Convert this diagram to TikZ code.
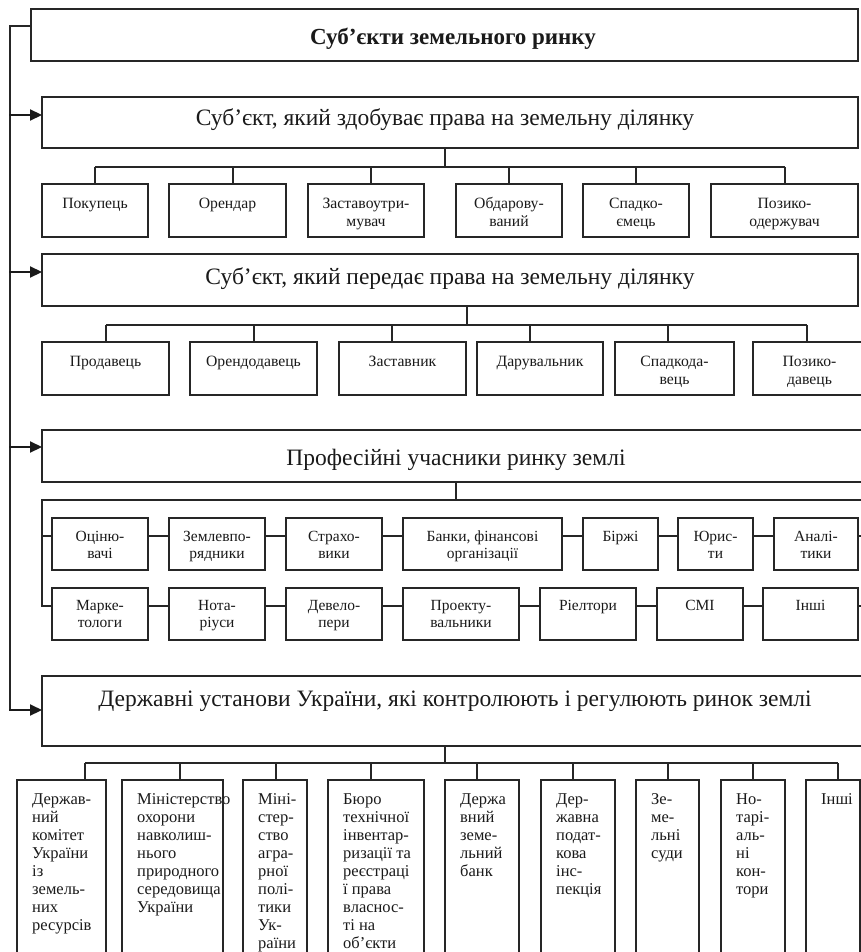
\documentclass[tikz,border=0pt]{standalone}
\usepackage{fontspec}
\setmainfont{Liberation Serif}
\usetikzlibrary{arrows.meta}
\definecolor{lc}{HTML}{262626}
\definecolor{tc}{HTML}{1A1A1A}
\tikzset{
  box/.style={draw=lc, line width=1.15pt, fill=white, inner sep=0pt, outer sep=0pt},
  conn/.style={draw=lc, line width=1.15pt},
  arr/.style={draw=tc, line width=2.2pt, -{Triangle[length=12pt,width=11pt]}},
  head/.style={font=\fontsize{23.5}{27}\selectfont, text=tc, inner sep=0pt, anchor=base},
  smallA/.style={font=\fontsize{15.7}{18}\selectfont, text=tc, align=center, inner sep=0pt, anchor=north},
  smallP/.style={font=\fontsize{15.5}{17}\selectfont, text=tc, align=center, inner sep=0pt, anchor=north},
  tallt/.style={font=\fontsize{16.5}{18.1}\selectfont, text=tc, align=left, inner sep=0pt, anchor=north west},
}
\newcommand\mkbox[5]{\node[box, anchor=north west, minimum width={(#4-#2)*1pt}, minimum height={(#5-#3)*1pt}] (#1) at (#2,#3) {};}
\newcommand\txtA[3]{\node[smallA] (#1t) at ([yshift=-#2pt]#1.north) {\rule{0pt}{1em}#3};}
\newcommand\txtP[3]{\node[smallP] (#1t) at ([yshift=-#2pt]#1.north) {\rule{0pt}{1em}#3};}
\newcommand\txtD[2]{\node[tallt] (#1t) at ([xshift=15pt,yshift=-7.4pt]#1.north west) {\rule{0pt}{1em}#2};}
\begin{document}
\begin{tikzpicture}[x=1pt, y=-1pt]
\useasboundingbox (0,0) rectangle (861,952);
\clip (0,0) rectangle (861,952);
\fill[white] (0,0) rectangle (861,952);

% main boxes
\mkbox{top}{31}{9}{858}{61}
\node[font=\bfseries\fontsize{23}{27}\selectfont, text=tc, inner sep=0pt, anchor=base] (topt) at (453,45) {Суб’єкти земельного ринку};
\mkbox{b2}{42}{97}{858}{148}
\node[head] (b2t) at (445,125.5) {Суб’єкт, який здобуває права на земельну ділянку};
\mkbox{b3}{42}{254}{858}{306}
\node[head] (b3t) at (450,284) {Суб’єкт, який передає права на земельну ділянку};
\mkbox{b4}{42}{430}{872}{482}
\node[head] (b4t) at (456,465) {Професійні учасники ринку землі};
\mkbox{b5}{42}{676}{872}{746}
\node[head] (b5t) at (455,706) {Державні установи України, які контролюють і регулюють ринок землі};

% row A
\mkbox{A1}{42}{184}{148}{237} \txtA{A1}{8.1}{Покупець}
\mkbox{A2}{169}{184}{286}{237} \txtA{A2}{8.1}{Орендар}
\mkbox{A3}{308}{184}{424}{237} \txtA{A3}{8.1}{Заставоутри-\\мувач}
\mkbox{A4}{456}{184}{562}{237} \txtA{A4}{8.1}{Обдарову-\\ваний}
\mkbox{A5}{583}{184}{689}{237} \txtA{A5}{8.1}{Спадко-\\ємець}
\mkbox{A6}{711}{184}{858}{237} \txtA{A6}{8.1}{Позико-\\одержувач}

% row B
\mkbox{B1}{42}{342}{169}{395} \txtA{B1}{8.8}{Продавець}
\mkbox{B2}{190}{342}{317}{395} \txtA{B2}{8.8}{Орендодавець}
\mkbox{B3}{339}{342}{466}{395} \txtA{B3}{8.8}{Заставник}
\mkbox{B4}{477}{342}{603}{395} \txtA{B4}{8.8}{Дарувальник}
\mkbox{B5}{615}{342}{734}{395} \txtA{B5}{8.8}{Спадкода-\\вець}
\mkbox{B6}{753}{342}{866}{395} \txtA{B6}{8.8}{Позико-\\давець}

% container of professional participants
\coordinate (ct) at (456,500);
\coordinate (cL) at (42,500);
\coordinate (cR) at (872,500);
\coordinate (r1L) at (42,536);
\coordinate (r1R) at (872,536);
\coordinate (r2L) at (42,606);
\coordinate (r2R) at (872,606);
\draw[conn] (ct |- b4.south) -- (ct);
\draw[conn] (cR) -- (cL) -- (r2L) -- (r2R);
\draw[conn] (r1L) -- (r1R);

% row 1
\mkbox{P1}{52}{518}{148}{570} \txtP{P1}{7.5}{Оціню-\\вачі}
\mkbox{P2}{169}{518}{265}{570} \txtP{P2}{7.5}{Землевпо-\\рядники}
\mkbox{P3}{286}{518}{382}{570} \txtP{P3}{7.5}{Страхо-\\вики}
\mkbox{P4}{403}{518}{562}{570} \txtP{P4}{7.5}{Банки, фінансові\\організації}
\mkbox{P5}{583}{518}{658}{570} \txtP{P5}{7.5}{Біржі}
\mkbox{P6}{678}{518}{753}{570} \txtP{P6}{7.5}{Юрис-\\ти}
\mkbox{P7}{774}{518}{858}{570} \txtP{P7}{7.5}{Аналі-\\тики}

% row 2
\mkbox{Q1}{52}{588}{148}{640} \txtP{Q1}{6.8}{Марке-\\тологи}
\mkbox{Q2}{169}{588}{265}{640} \txtP{Q2}{6.8}{Нота-\\ріуси}
\mkbox{Q3}{286}{588}{382}{640} \txtP{Q3}{6.8}{Девело-\\пери}
\mkbox{Q4}{403}{588}{519}{640} \txtP{Q4}{6.8}{Проекту-\\вальники}
\mkbox{Q5}{540}{588}{636}{640} \txtP{Q5}{6.8}{Ріелтори}
\mkbox{Q6}{657}{588}{743}{640} \txtP{Q6}{6.8}{СМІ}
\mkbox{Q7}{763}{588}{858}{640} \txtP{Q7}{6.8}{Інші}

% bottom row
\mkbox{D1}{17}{780}{106}{962} \txtD{D1}{Держав-\\ний\\комітет\\України\\із\\земель-\\них\\ресурсів}
\mkbox{D2}{122}{780}{223}{962} \txtD{D2}{Міністерство\\охорони\\навколиш-\\нього\\природного\\середовища\\України}
\mkbox{D3}{243}{780}{307}{962} \txtD{D3}{Міні-\\стер-\\ство\\агра-\\рної\\полі-\\тики\\Ук-\\раїни}
\mkbox{D4}{328}{780}{424}{962} \txtD{D4}{Бюро\\технічної\\інвентар-\\ризації та\\реєстраці\\ї права\\власнос-\\ті на\\об’єкти}
\mkbox{D5}{445}{780}{519}{962} \txtD{D5}{Держа\\вний\\земе-\\льний\\банк}
\mkbox{D6}{541}{780}{615}{962} \txtD{D6}{Дер-\\жавна\\подат-\\кова\\інс-\\пекція}
\mkbox{D7}{636}{780}{699}{962} \txtD{D7}{Зе-\\ме-\\льні\\суди}
\mkbox{D8}{721}{780}{785}{962} \txtD{D8}{Но-\\тарі-\\аль-\\ні\\кон-\\тори}
\mkbox{D9}{806}{780}{860}{962} \txtD{D9}{Інші}
\draw[conn] (D2.north east) -- (D2.south east);

% tree A
\coordinate (jA) at (445,167);
\draw[conn] (jA |- b2.south) -- (jA);
\foreach \n/\x in {A1/95,A2/233,A3/371,A4/509,A5/636,A6/785}{
  \coordinate (d\n) at (\x,167);
  \draw[conn] (d\n) -- (d\n |- \n.north);
}
\draw[conn] (dA1) -- (dA6);

% tree B
\coordinate (jB) at (467,325);
\draw[conn] (jB |- b3.south) -- (jB);
\foreach \n/\x in {B1/106,B2/254,B3/392,B4/530,B5/668,B6/807}{
  \coordinate (d\n) at (\x,325);
  \draw[conn] (d\n) -- (d\n |- \n.north);
}
\draw[conn] (dB1) -- (dB6);

% tree D
\coordinate (jD) at (445,763);
\draw[conn] (jD |- b5.south) -- (jD);
\foreach \n/\x in {D1/85,D2/180,D3/276,D4/371,D5/477,D6/573,D7/668,D8/753,D9/838}{
  \coordinate (d\n) at (\x,763);
  \draw[conn] (d\n) -- (d\n |- \n.north);
}
\draw[conn] (dD1) -- (dD9);

% trunk and arrows
\coordinate (tr0) at (10,26);
\coordinate (tr1) at (10,710);
\draw[conn] (top.west |- tr0) -- (tr0) -- (tr1);
\foreach \b/\y in {b2/115,b3/272,b4/447,b5/710}{
  \coordinate (ar\b) at (9,\y);
  \draw[arr] (ar\b) -- (ar\b -| \b.west);
}
\end{tikzpicture}
\end{document}
